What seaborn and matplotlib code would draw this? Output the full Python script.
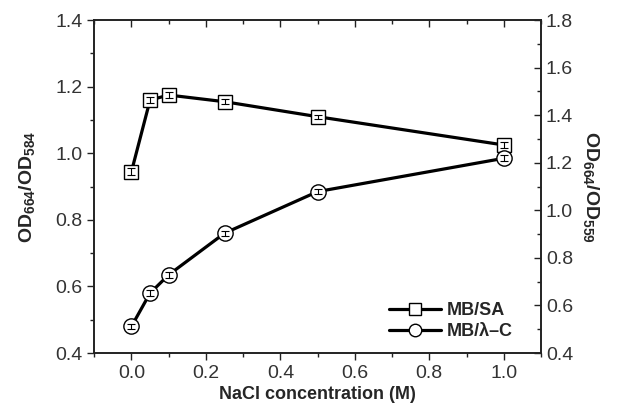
import numpy as np
import pandas as pd
import matplotlib
matplotlib.use("Agg")
import matplotlib.pyplot as plt
from matplotlib.ticker import MultipleLocator, FormatStrFormatter
from matplotlib.lines import Line2D
import seaborn as sns

# Datos
# ==============================================================================
nacl = [0.0, 0.05, 0.1, 0.25, 0.5, 1.0]
od_sa = [0.945, 1.16, 1.175, 1.155, 1.11, 1.025]        # OD664/OD584 (eje izq.)
err_sa = [0.010, 0.008, 0.008, 0.008, 0.006, 0.008]
od_lc = [0.512, 0.652, 0.729, 0.904, 1.079, 1.219]      # OD664/OD559 (eje der.)
err_lc = [0.012, 0.012, 0.012, 0.010, 0.010, 0.012]

# Configuración
# ==============================================================================
sns.set_style("ticks")
plt.rcParams['font.family'] = ['Liberation Sans', 'DejaVu Sans']
plt.rcParams['mathtext.fontset'] = 'custom'
plt.rcParams['mathtext.rm'] = 'Liberation Sans:bold'
plt.rcParams['mathtext.bf'] = 'Liberation Sans:bold'
plt.rcParams['mathtext.it'] = 'Liberation Sans:bold'

fig = plt.figure(figsize=(6.24, 4.11), dpi=100)
ax = fig.add_axes([0.151, 0.141, 0.716, 0.810])
ax2 = ax.twinx()

df_sa = pd.DataFrame({"x": nacl, "y": od_sa})
df_lc = pd.DataFrame({"x": nacl, "y": od_lc})

sns.lineplot(data=df_sa, x="x", y="y", ax=ax, color="black", lw=2.3,
             marker="s", markersize=10, markerfacecolor="white",
             markeredgecolor="black", markeredgewidth=1.0, zorder=3)
ax.errorbar(nacl, od_sa, yerr=err_sa, fmt="none", ecolor="black",
            elinewidth=0.8, capsize=3, capthick=0.8, zorder=4)

sns.lineplot(data=df_lc, x="x", y="y", ax=ax2, color="black", lw=2.3,
             marker="o", markersize=11, markerfacecolor="white",
             markeredgecolor="black", markeredgewidth=1.0, zorder=3)
ax2.errorbar(nacl, od_lc, yerr=err_lc, fmt="none", ecolor="black",
             elinewidth=0.8, capsize=3, capthick=0.8, zorder=4)

# Ejes
# ==============================================================================
ax.set_xlim(-0.1, 1.1)
ax.set_ylim(0.4, 1.4)
ax2.set_ylim(0.4, 1.8)
ax.xaxis.set_major_locator(MultipleLocator(0.2))
ax.xaxis.set_minor_locator(MultipleLocator(0.1))
ax.yaxis.set_major_locator(MultipleLocator(0.2))
ax.yaxis.set_minor_locator(MultipleLocator(0.1))
ax2.yaxis.set_major_locator(MultipleLocator(0.2))
ax2.yaxis.set_minor_locator(MultipleLocator(0.1))
ax.xaxis.set_major_formatter(FormatStrFormatter("%.1f"))
ax.yaxis.set_major_formatter(FormatStrFormatter("%.1f"))
ax2.yaxis.set_major_formatter(FormatStrFormatter("%.1f"))

for a in (ax, ax2):
    for s in a.spines.values():
        s.set_visible(True)
        s.set_linewidth(1.2)
        s.set_color("#222222")

ax.tick_params(axis="both", which="both", direction="out", labelsize=14,
               colors="#222222", labelcolor="#333333", width=1.0)
ax.tick_params(axis="x", which="both", top=True, labeltop=False)
ax.tick_params(which="major", length=5)
ax.tick_params(which="minor", length=3)
ax2.tick_params(axis="y", which="both", direction="in", labelsize=14,
                colors="#222222", labelcolor="#333333", width=1.0)
ax2.tick_params(which="major", length=5)
ax2.tick_params(which="minor", length=3)
for t in ax.xaxis.get_ticklines(minor=False)[1::2] + ax.xaxis.get_ticklines(minor=True)[1::2]:
    t.set_marker(3)  # ticks superiores hacia dentro

ax.set_xlabel("NaCl concentration (M)", fontsize=13, fontweight="bold", labelpad=3)
ax.set_ylabel(r"OD$_{664}$/OD$_{584}$", fontsize=14, fontweight="bold", labelpad=13)
ax2.set_ylabel(r"OD$_{664}$/OD$_{559}$", fontsize=14, fontweight="bold",
               rotation=270, labelpad=20)

handles = [
    Line2D([], [], color="black", lw=2.3, marker="s", markersize=8,
           markerfacecolor="white", markeredgecolor="black"),
    Line2D([], [], color="black", lw=2.3, marker="o", markersize=9,
           markerfacecolor="white", markeredgecolor="black"),
]
ax.legend(handles, ["MB/SA", "MB/λ–C"], loc="lower right", frameon=False,
          bbox_to_anchor=(0.965, 0.0),
          prop={"weight": "bold", "size": 13}, handlelength=2.9,
          handletextpad=0.3, labelspacing=0.25, borderaxespad=0.3)

plt.savefig("out.png", dpi=100)
